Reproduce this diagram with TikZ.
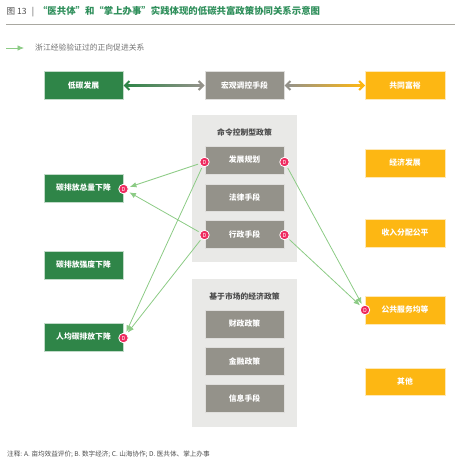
\documentclass[tikz,border=0pt]{standalone}
\usepackage{fontspec}
\setmainfont{Noto Sans CJK SC}
\usetikzlibrary{arrows.meta, calc}
\definecolor{TreeGreen}{HTML}{2F8548}
\definecolor{TitleGreen}{HTML}{2F8F5B}
\definecolor{StoneGray}{HTML}{94928A}
\definecolor{PanelGray}{HTML}{E9E9E7}
\definecolor{SunYellow}{HTML}{FDB713}
\definecolor{BadgeRed}{HTML}{EE2A5F}
\definecolor{LinkGreen}{HTML}{8CCB85}
\definecolor{InkGray}{HTML}{4D4D4D}
\tikzset{
    % Box styles
    box/.style={
        rectangle,
        draw=white!70!#1,
        fill=#1,
        line width=0.5pt,
        text=white,
        minimum width=79.5pt,
        minimum height=27.5pt,
        inner sep=0pt,
        align=center,
        font=\fontsize{7.8}{9}\selectfont\bfseries
    },
    carbon/.style={box=TreeGreen},
    tool/.style={box=StoneGray},
    wealth/.style={box=SunYellow},
    panel/.style={
        rectangle,
        fill=PanelGray,
        minimum width=105pt,
        inner sep=0pt
    },
    paneltitle/.style={
        text=InkGray,
        inner sep=0pt,
        font=\fontsize{7.8}{9}\selectfont\bfseries
    },
    badge/.style={
        circle,
        draw=white,
        fill=BadgeRed,
        line width=0.8pt,
        minimum size=9.5pt,
        inner sep=0pt,
        outer sep=2pt,
        text=white,
        font=\fontsize{5.5}{5.5}\selectfont
    },
    % Arrow styles
    link/.style={
        -{Latex[length=6.5pt,width=5.5pt]},
        line width=0.8pt,
        draw=LinkGreen
    },
    bigtip/.style={
        line width=2pt,
        line cap=butt
    }
}

\begin{document}
\begin{tikzpicture}[x=1pt,y=-1pt]
    \useasboundingbox (0,0) rectangle (455,465);

    \node[anchor=west, inner sep=0pt, text=TitleGreen, font=\fontsize{9.4}{11}\selectfont\bfseries] (title) at (6.5,11.5)
        {{\color{InkGray}\mdseries\fontsize{8.6}{10}\selectfont 图 13\hspace{5pt}|\hspace{4pt}}“医共体”和“掌上办事”实践体现的低碳共富政策协同关系示意图};
    \coordinate (ruleL) at (6,24);
    \coordinate (ruleR) at (455,24);
    \draw[draw=StoneGray!80, line width=0.8pt] (ruleL) -- (ruleR);

    \coordinate (legA) at (6,48);
    \coordinate (legB) at (24,48);
    \draw[link] (legA) -- (legB);
    \node[anchor=west, inner sep=0pt, text=InkGray!80, font=\fontsize{7.8}{9}\selectfont] (legend) at (35,48) {浙江经验验证过的正向促进关系};

    % Panels
    \node[panel, minimum height=147pt] (command) at (244.5,188.5) {};
    \node[panel, minimum height=148pt] (market) at (244.5,353) {};
    \node[paneltitle] (commandT) at (244.5,132) {命令控制型政策};
    \node[paneltitle] (marketT) at (244.5,296) {基于市场的经济政策};

    % Left column
    \node[carbon] (low) at (83.5,85.5) {低碳发展};
    \node[carbon] (total) at (83.5,188) {碳排放总量下降};
    \node[carbon] (intensity) at (83.5,265) {碳排放强度下降};
    \node[carbon] (percap) at (83.5,337) {人均碳排放下降};

    % Middle column
    \node[tool] (macro) at (244.5,85.5) {宏观调控手段};
    \node[tool] (plan) at (244.5,160) {发展规划};
    \node[tool] (law) at (244.5,197.5) {法律手段};
    \node[tool] (admin) at (244.5,234) {行政手段};
    \node[tool] (fiscal) at (244.5,324) {财政政策};
    \node[tool] (finance) at (244.5,361) {金融政策};
    \node[tool] (info) at (244.5,398) {信息手段};

    % Right column
    \node[wealth] (common) at (405,85.5) {共同富裕};
    \node[wealth] (economy) at (405,163) {经济发展};
    \node[wealth] (income) at (405,233) {收入分配公平};
    \node[wealth] (service) at (405,310) {公共服务均等};
    \node[wealth] (other) at (405,381.5) {其他};

    % Badges
    \node[badge] (planL) at ($(plan.west)+(0,2)$) {D};
    \node[badge] (planR) at ($(plan.east)+(0,2)$) {D};
    \node[badge] (adminL) at ($(admin.west)+(0,1)$) {D};
    \node[badge] (adminR) at ($(admin.east)+(0,1)$) {D};
    \node[badge] (totalB) at ($(total.east)+(0,1)$) {D};
    \node[badge] (percapB) at ($(percap.east)+(0,1)$) {D};
    \node[badge] (serviceB) at (service.west) {D};

    % Green links
    \draw[link] (planL) -- (totalB);
    \draw[link] (adminL) -- (totalB);
    \draw[link] (planL) -- (percapB);
    \draw[link] (adminL) -- (percapB);
    \draw[link] (planR) -- (serviceB);
    \draw[link] (adminR) -- (serviceB);

    % Shaded double arrows
    \shade[left color=TreeGreen, right color=StoneGray] ($(low.east)+(3,-1)$) rectangle ($(macro.west)+(-3,1)$);
    \shade[left color=StoneGray, right color=SunYellow] ($(macro.east)+(3,-1)$) rectangle ($(common.west)+(-3,1)$);
    \draw[bigtip, draw=TreeGreen, {Straight Barb[length=4.5pt,width=9pt]}-] (low.east) -- ++(6,0);
    \draw[bigtip, draw=StoneGray, -{Straight Barb[length=4.5pt,width=9pt]}] ($(macro.west)+(-6,0)$) -- (macro.west);
    \draw[bigtip, draw=StoneGray, {Straight Barb[length=4.5pt,width=9pt]}-] (macro.east) -- ++(6,0);
    \draw[bigtip, draw=SunYellow, -{Straight Barb[length=4.5pt,width=9pt]}] ($(common.west)+(-6,0)$) -- (common.west);

    \node[anchor=west, inner sep=0pt, text=InkGray, font=\fontsize{6.6}{8}\selectfont] (note) at (7,454)
        {注释: A. 亩均效益评价; B. 数字经济; C. 山海协作; D. 医共体、掌上办事};
\end{tikzpicture}
\end{document}
